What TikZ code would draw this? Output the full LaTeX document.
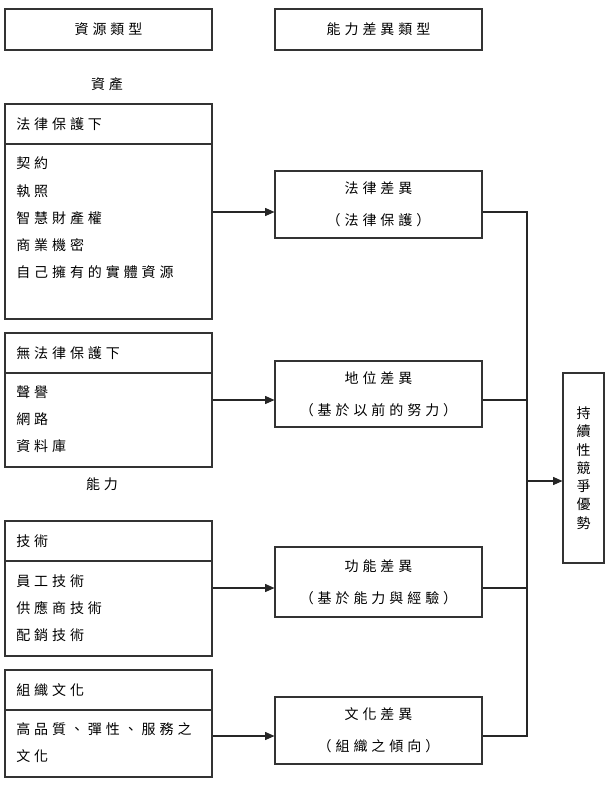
\documentclass[tikz,border=0pt]{standalone}
\usepackage{fontspec}
\setmainfont{Noto Sans CJK TC}[LetterSpace=28]
\usetikzlibrary{arrows.meta}
\tikzset{
  box/.style={draw=black!80, line width=0.8pt, inner sep=0pt, font=\fontsize{10.5}{12}\selectfont},
  txt/.style={inner sep=0pt, font=\fontsize{10.5}{12}\selectfont, anchor=west},
  ctxt/.style={inner sep=0pt, font=\fontsize{10.5}{12}\selectfont},
  conn/.style={draw=black!85, line width=0.8pt},
  arr/.style={conn, -{Triangle[length=7pt,width=6pt]}}
}
\begin{document}
\begin{tikzpicture}[x=0.75pt,y=-0.75pt]
\useasboundingbox (0,0) rectangle (608,799);
% top headers
\node[box, minimum width=155.25pt, minimum height=30.75pt] (hl) at (108.5,29.5) {資源類型};
\node[box, minimum width=155.25pt, minimum height=30.75pt] (hr) at (378.5,29.5) {能力差異類型};
\node[ctxt] (assets) at (107,84) {資產};
\node[ctxt] (caps) at (102,484) {能力};
% left box 1
\node[box, minimum width=155.25pt, minimum height=30pt] (h1) at (108.5,124) {};
\node[box, minimum width=155.25pt, minimum height=131.25pt] (b1) at (108.5,231.5) {};
\node[txt] (t1) at (16,124) {法律保護下};
\node[txt] (t1a) at (16,163) {契約};
\node[txt] (t1b) at (16,191) {執照};
\node[txt] (t1c) at (16,218) {智慧財產權};
\node[txt] (t1d) at (16,245) {商業機密};
\node[txt] (t1e) at (16,272) {自己擁有的實體資源};
% left box 2
\node[box, minimum width=155.25pt, minimum height=30pt] (h2) at (108.5,353) {};
\node[box, minimum width=155.25pt, minimum height=70.5pt] (b2) at (108.5,420) {};
\node[txt] (t2) at (16,353) {無法律保護下};
\node[txt] (t2a) at (16,392) {聲譽};
\node[txt] (t2b) at (16,419) {網路};
\node[txt] (t2c) at (16,446) {資料庫};
% left box 3
\node[box, minimum width=155.25pt, minimum height=30pt] (h3) at (108.5,541) {};
\node[box, minimum width=155.25pt, minimum height=71.25pt] (b3) at (108.5,608.5) {};
\node[txt] (t3) at (16,541) {技術};
\node[txt] (t3a) at (16,581) {員工技術};
\node[txt] (t3b) at (16,608) {供應商技術};
\node[txt] (t3c) at (16,635) {配銷技術};
% left box 4
\node[box, minimum width=155.25pt, minimum height=30pt] (h4) at (108.5,690) {};
\node[box, minimum width=155.25pt, minimum height=50.25pt] (b4) at (108.5,743.5) {};
\node[txt] (t4) at (16,690) {組織文化};
\node[txt] (t4a) at (16,729) {高品質、彈性、服務之};
\node[txt] (t4b) at (16,756) {文化};
% right boxes
\node[box, minimum width=155.25pt, minimum height=50.25pt, align=center, font=\fontsize{10.5}{24}\selectfont] (ra) at (378.5,204.5) {法律差異\\（法律保護）};
\node[box, minimum width=155.25pt, minimum height=49.5pt, align=center, font=\fontsize{10.5}{24}\selectfont] (rb) at (378.5,394) {地位差異\\（基於以前的努力）};
\node[box, minimum width=155.25pt, minimum height=52.5pt, align=center, font=\fontsize{10.5}{24}\selectfont] (rc) at (378.5,582) {功能差異\\（基於能力與經驗）};
\node[box, minimum width=155.25pt, minimum height=50.25pt, align=center, font=\fontsize{10.5}{24}\selectfont] (rd) at (378.5,730.5) {文化差異\\（組織之傾向）};
% final box
\node[box, minimum width=30.75pt, minimum height=142.5pt, align=center, font=\fontsize{10.5}{13.7}\selectfont] (fin) at (583.5,468) {持\\續\\性\\競\\爭\\優\\勢};
% connector coordinates
\coordinate (ya) at (0,212);
\coordinate (yb) at (0,400);
\coordinate (yc) at (0,588);
\coordinate (yd) at (0,736);
\coordinate (bus) at (527,481);
% arrows left -> right
\draw[arr] (b1.east |- ya) -- (ra.west |- ya);
\draw[arr] (b2.east |- yb) -- (rb.west |- yb);
\draw[arr] (b3.east |- yc) -- (rc.west |- yc);
\draw[arr] (b4.east |- yd) -- (rd.west |- yd);
% bus
\draw[conn] (ra.east |- ya) -- (bus |- ya) -- (bus |- yd) -- (rd.east |- yd);
\draw[conn] (rb.east |- yb) -- (bus |- yb);
\draw[conn] (rc.east |- yc) -- (bus |- yc);
\draw[arr] (bus) -- (fin.west |- bus);
\end{tikzpicture}
\end{document}
